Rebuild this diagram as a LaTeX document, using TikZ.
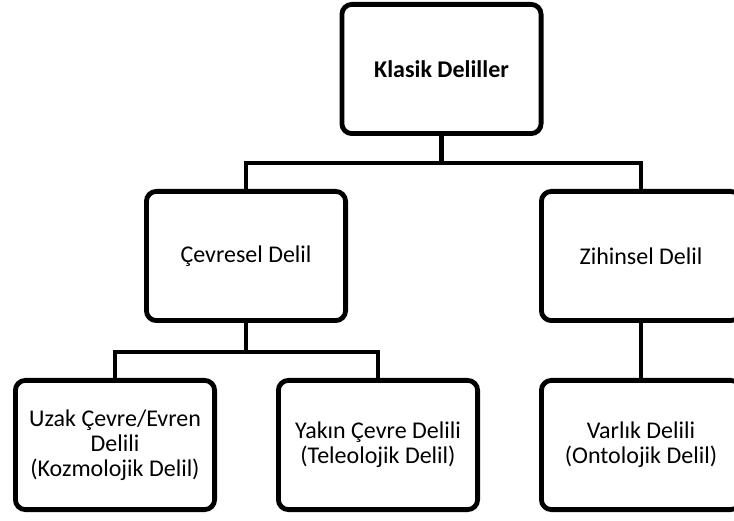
\documentclass[tikz,border=0pt]{standalone}
\usepackage{fontspec}
\setmainfont{Carlito}
\usepackage{tikz}
\usetikzlibrary{positioning}

\begin{document}
\begin{tikzpicture}[
    x=1pt, y=1pt,
    box/.style={
        rectangle, draw,
        line width=4.8pt,
        rounded corners=10pt,
        align=center,
        minimum width=199.2pt,
        minimum height=129.2pt,
        font=\fontsize{24}{25}\selectfont
    },
    link/.style={draw, line width=4.8pt}
]
\path [use as bounding box, clip] (0,0) rectangle (734,520);

% Top
\node [box, font=\fontsize{24}{25}\selectfont\bfseries] (klasik) at (441.5,451) {Klasik Deliller};

% Second row
\node [box] (cevresel) at (246,264) {Çevresel Delil};
\node [box] (zihinsel) at (641,264) {Zihinsel Delil};

% Third row
\node [box] (uzak) at (115,75) {Uzak Çevre/Evren\\Delili\\(Kozmolojik Delil)};
\node [box, right=59pt of uzak] (yakin) {Yakın Çevre Delili\\(Teleolojik Delil)};
\node [box, below=55pt of zihinsel] (varlik) {Varlık Delili\\(Ontolojik Delil)};

% Links
\draw [link] (klasik.south) -- ++(0,-27) coordinate (topbar);
\draw [link] (cevresel.north) |- (topbar) -| (zihinsel.north);
\draw [link] (cevresel.south) -- ++(0,-29) coordinate (lowbar);
\draw [link] (uzak.north) |- (lowbar) -| (yakin.north);
\draw [link] (zihinsel) -- (varlik);

\end{tikzpicture}
\end{document}
